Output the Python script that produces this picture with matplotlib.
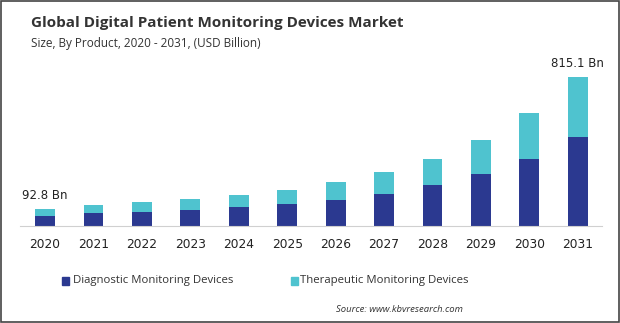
import matplotlib.pyplot as plt
from matplotlib.patches import Rectangle

years = ['2020', '2021', '2022', '2023', '2024', '2025',
         '2026', '2027', '2028', '2029', '2030', '2031']
diagnostic = [57, 73, 78, 89, 106, 120, 142, 176, 224, 285, 367, 487]
therapeutic = [35.8, 44, 53, 59, 64, 77, 100, 120, 143, 185, 251, 328.1]
totals = [d + t for d, t in zip(diagnostic, therapeutic)]
labels = {0: '92.8 Bn', 11: '815.1 Bn'}

dark = '#2b3990'
light = '#4fc3cf'

fig = plt.figure(figsize=(6.2, 3.23), dpi=100)
ax = fig.add_axes([0.032, 1 - 226 / 323, 0.939, 150 / 323])

x = range(len(years))
ax.bar(x, diagnostic, width=0.41, color=dark, label='Diagnostic Monitoring Devices')
ax.bar(x, therapeutic, width=0.41, bottom=diagnostic, color=light,
       label='Therapeutic Monitoring Devices')

for i, txt in labels.items():
    ax.annotate(txt, (i, totals[i]), xytext=(0, 5), textcoords='offset points',
                ha='center', va='bottom', fontsize=8.5, color='#222222',
                family='DejaVu Sans')

ax.set_xlim(-0.52, 11.5)
ax.set_ylim(0, 820)
ax.set_xticks(list(x))
ax.set_xticklabels(years, fontsize=8.8, color='#222222', family='DejaVu Sans')
ax.tick_params(axis='x', length=0, pad=9)
ax.set_yticks([])
for s in ['top', 'right', 'left']:
    ax.spines[s].set_visible(False)
ax.spines['bottom'].set_color('#d0d0d0')

fig.text(0.05, 0.93, 'Global Digital Patient Monitoring Devices Market',
         fontsize=11, fontweight='bold', color='#333333', family='Open Sans',
         va='center')
fig.text(0.05, 0.866, 'Size, By Product, 2020 - 2031, (USD Billion)',
         fontsize=8.5, color='#333333', family='Open Sans', va='center')

# legend drawn by hand to match placement
fig.patches.append(Rectangle((62 / 620, 1 - 285 / 323), 7 / 620, 8 / 323,
                             transform=fig.transFigure, color=dark))
fig.text(73 / 620, 1 - 281 / 323, 'Diagnostic Monitoring Devices', fontsize=8.2,
         color='#333333', family='Open Sans', va='center')
fig.patches.append(Rectangle((291 / 620, 1 - 285 / 323), 7 / 620, 8 / 323,
                             transform=fig.transFigure, color=light))
fig.text(300 / 620, 1 - 281 / 323, 'Therapeutic Monitoring Devices', fontsize=8.2,
         color='#333333', family='Open Sans', va='center')

fig.text(463 / 620, 1 - 309 / 323, 'Source: www.kbvresearch.com', fontsize=6.8,
         style='italic', color='#333333', family='Open Sans', ha='right', va='center')

fig.patches.append(Rectangle((0.001, 0.002), 0.997, 0.995, transform=fig.transFigure,
                             fill=False, edgecolor='#444444', linewidth=1.2))

fig.savefig('out.png', dpi=100)
